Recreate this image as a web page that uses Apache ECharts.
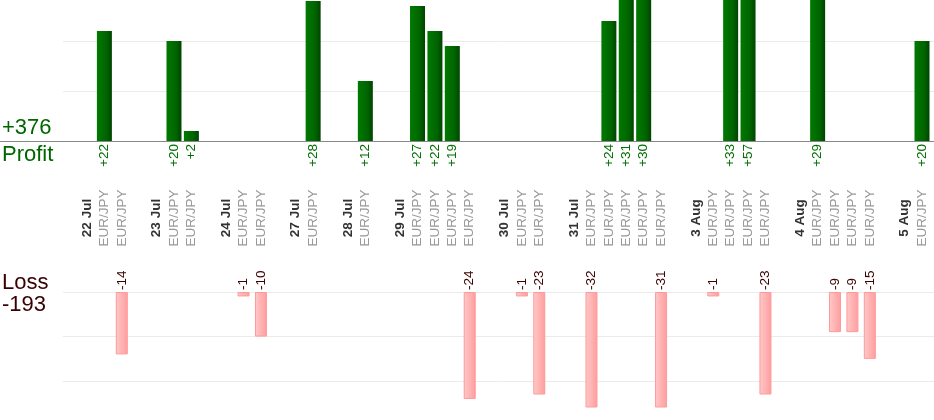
<!DOCTYPE html>
<html>
<head>
    <meta charset="UTF-8">
    <title>Profit / Loss</title>
    <script src="https://cdn.jsdelivr.net/npm/echarts@6/dist/echarts.min.js"></script>
    <style>
        html, body { margin: 0; padding: 0; background: #fff; }
        #chart { width: 934px; height: 420px; }
    </style>
</head>
<body>
    <div id="chart"></div>
    <script>
        // one slot per label: a date, then its trades, then an empty spacer
        const slotLabels = [
            '22 Jul', 'EUR/JPY', 'EUR/JPY', '',
            '23 Jul', 'EUR/JPY', 'EUR/JPY', '',
            '24 Jul', 'EUR/JPY', 'EUR/JPY', '',
            '27 Jul', 'EUR/JPY', '',
            '28 Jul', 'EUR/JPY', '',
            '29 Jul', 'EUR/JPY', 'EUR/JPY', 'EUR/JPY', 'EUR/JPY', '',
            '30 Jul', 'EUR/JPY', 'EUR/JPY', '',
            '31 Jul', 'EUR/JPY', 'EUR/JPY', 'EUR/JPY', 'EUR/JPY', 'EUR/JPY', '',
            '3 Aug', 'EUR/JPY', 'EUR/JPY', 'EUR/JPY', 'EUR/JPY', '',
            '4 Aug', 'EUR/JPY', 'EUR/JPY', 'EUR/JPY', 'EUR/JPY', '',
            '5 Aug', 'EUR/JPY'
        ];
        const profit = [
            null, 22, null, null,
            null, 20, 2, null,
            null, null, null, null,
            null, 28, null,
            null, 12, null,
            null, 27, 22, 19, null, null,
            null, null, null, null,
            null, null, 24, 31, 30, null, null,
            null, null, 33, 57, null, null,
            null, 29, null, null, null, null,
            null, 20
        ];
        const loss = [
            null, null, -14, null,
            null, null, null, null,
            null, -1, -10, null,
            null, null, null,
            null, null, null,
            null, null, null, null, -24, null,
            null, -1, -23, null,
            null, -32, null, null, null, -31, null,
            null, -1, null, null, -23, null,
            null, null, -9, -9, -15, null,
            null, null
        ];

        const totalProfit = profit.reduce((s, v) => s + (v || 0), 0);
        const totalLoss = loss.reduce((s, v) => s + (v || 0), 0);

        const font = '"Liberation Sans", Arial, sans-serif';
        const green = '#006600';
        const brown = '#3a0000';

        const chart = echarts.init(document.getElementById('chart'));

        const topBox = { top: -9, height: 150 };
        const botBox = { top: 292, height: 134 };
        const botBars = { top: 292, height: 115 };
        const barsLR = { left: 78.3, right: 3.3 };

        const mkGrid = (lr, box) => Object.assign({ outerBoundsMode: 'none', containLabel: false }, lr, box);

        const hiddenValueX = (grid) => ({
            type: 'value', gridIndex: grid, min: 0, max: 1,
            axisLabel: { show: false }, axisTick: { show: false },
            splitLine: { show: false }, axisLine: { show: false }
        });

        const option = {
            animation: false,
            textStyle: { fontFamily: font },
            grid: [
                mkGrid(barsLR, topBox),
                mkGrid({ left: 0, right: 0 }, topBox),
                mkGrid({ left: 63, right: 0 }, topBox),
                mkGrid(barsLR, botBars),
                mkGrid({ left: 0, right: 0 }, botBox),
                mkGrid({ left: 63, right: 0 }, botBox)
            ],
            xAxis: [
                // 0: profit value labels under the top baseline
                {
                    type: 'category', gridIndex: 0, data: slotLabels, position: 'bottom',
                    axisLine: { show: false }, axisTick: { show: false },
                    axisLabel: {
                        interval: 0, rotate: 90, margin: 3,
                        fontSize: 13.5, color: '#007000', fontFamily: font,
                        formatter: (v, i) => profit[i] != null ? '+' + profit[i] : ''
                    }
                },
                // 1: dates and pairs between the two panels
                {
                    type: 'category', gridIndex: 0, data: slotLabels, position: 'bottom',
                    axisLine: { show: false }, axisTick: { show: false },
                    axisLabel: {
                        interval: 0, rotate: 90, margin: 77, align: 'center',
                        fontFamily: font,
                        formatter: (v) => {
                            if (!v) return '';
                            return v.indexOf('/') < 0 ? '{d|' + v + '}' : '{p|' + v + '}';
                        },
                        rich: {
                            d: { fontSize: 13.5, fontWeight: 'bold', color: '#333', fontFamily: font },
                            p: { fontSize: 13.5, color: '#999', fontFamily: font }
                        }
                    }
                },
                // 2: top baseline across the whole width
                {
                    type: 'value', gridIndex: 1, min: 0, max: 1, position: 'bottom', z: 5,
                    axisLine: { show: true, lineStyle: { color: '#888', width: 1 } },
                    axisLabel: { show: false }, axisTick: { show: false }, splitLine: { show: false }
                },
                hiddenValueX(2),
                // 4: loss value labels over the bottom baseline
                {
                    type: 'category', gridIndex: 3, data: slotLabels, position: 'top',
                    axisLine: { show: false }, axisTick: { show: false },
                    axisLabel: {
                        interval: 0, rotate: 90, margin: 2,
                        fontSize: 13.5, color: brown, fontFamily: font,
                        formatter: (v, i) => loss[i] != null ? String(loss[i]) : ''
                    }
                },
                // 5: bottom baseline
                {
                    type: 'value', gridIndex: 4, min: 0, max: 1, position: 'top', z: 5,
                    axisLine: { show: true, lineStyle: { color: '#888', width: 1 } },
                    axisLabel: { show: false }, axisTick: { show: false }, splitLine: { show: false }
                },
                hiddenValueX(5)
            ],
            yAxis: [
                { type: 'value', gridIndex: 0, min: 0, max: 30, show: false },
                { type: 'value', gridIndex: 1, min: 0, max: 1, show: false },
                {
                    type: 'value', gridIndex: 2, min: 0, max: 30, interval: 10, z: 0,
                    axisLine: { show: false }, axisTick: { show: false }, axisLabel: { show: false },
                    splitLine: { lineStyle: { color: '#ebebeb', width: 1 } }
                },
                { type: 'value', gridIndex: 3, min: -25.8, max: 0, show: false },
                { type: 'value', gridIndex: 4, min: 0, max: 1, show: false },
                {
                    type: 'value', gridIndex: 5, min: -30, max: 0, interval: 10, z: 0,
                    axisLine: { show: false }, axisTick: { show: false }, axisLabel: { show: false },
                    splitLine: { lineStyle: { color: '#ebebeb', width: 1 } }
                }
            ],
            graphic: [
                { type: 'text', left: 2, top: 117, style: { text: '+' + totalProfit, fontSize: 22, fontFamily: font, fill: green } },
                { type: 'text', left: 2, top: 144, style: { text: 'Profit', fontSize: 22, fontFamily: font, fill: green } },
                { type: 'text', left: 2, top: 272, style: { text: 'Loss', fontSize: 22, fontFamily: font, fill: brown } },
                { type: 'text', left: 2, top: 294, style: { text: String(totalLoss), fontSize: 22, fontFamily: font, fill: brown } }
            ],
            series: [
                {
                    type: 'bar', xAxisIndex: 0, yAxisIndex: 0, data: profit,
                    barWidth: 15,
                    itemStyle: {
                        color: new echarts.graphic.LinearGradient(0, 0, 1, 0, [
                            { offset: 0, color: '#007a00' },
                            { offset: 0.65, color: '#006400' },
                            { offset: 1, color: '#004400' }
                        ])
                    }
                },
                {
                    type: 'bar', xAxisIndex: 4, yAxisIndex: 3, data: loss,
                    barWidth: 12,
                    itemStyle: {
                        borderColor: '#ff9a9a', borderWidth: 1,
                        color: new echarts.graphic.LinearGradient(0, 0, 1, 0, [
                            { offset: 0, color: '#ffcaca' },
                            { offset: 1, color: '#ff9c9c' }
                        ])
                    }
                }
            ]
        };

        chart.setOption(option);
    </script>
</body>
</html>
